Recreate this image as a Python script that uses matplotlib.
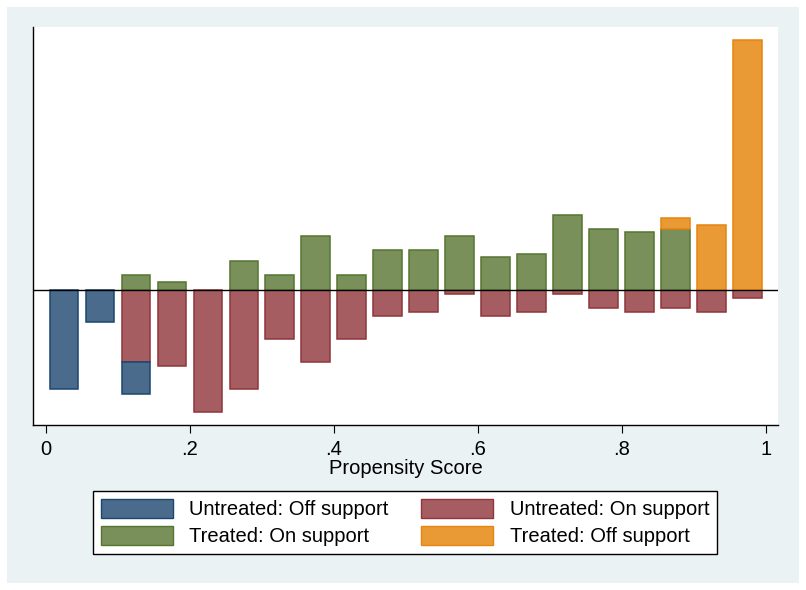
import matplotlib
matplotlib.use('Agg')
import matplotlib.pyplot as plt
from matplotlib.patches import Patch, Rectangle

plt.rcParams['font.family'] = ['Liberation Sans', 'DejaVu Sans']

# bin centres of the propensity score histogram
bins = [0.025 + 0.05 * i for i in range(20)]

# heights (arbitrary units), untreated drawn downwards
untreated_on = [0, 0, 72.3, 76.3, 122.3, 99.3, 49.3, 72.3, 49.3, 26.3,
                22.3, 4.3, 26.3, 22.3, 4.3, 18.3, 22.3, 18.3, 22.3, 8.0]
untreated_off = [99.3, 32.3, 32.0, 0, 0, 0, 0, 0, 0, 0,
                 0, 0, 0, 0, 0, 0, 0, 0, 0, 0]
treated_on = [0, 0, 14.7, 8.0, 0, 28.7, 14.7, 54.0, 14.7, 39.7,
              39.7, 53.7, 32.7, 35.7, 74.7, 60.7, 57.7, 60.7, 0, 0]
treated_off = [0, 0, 0, 0, 0, 0, 0, 0, 0, 0,
               0, 0, 0, 0, 0, 0, 0, 11.0, 64.7, 250.0]

xticks = [0, 0.2, 0.4, 0.6, 0.8, 1]
xticklabels = ['0', '.2', '.4', '.6', '.8', '1']

blue = ('#4a6b8c', '#1a476f')
red = ('#a55d62', '#90353b')
green = ('#79905a', '#55752f')
orange = ('#ea9a35', '#e8850f')

FS = 14.5
W, H = 806, 590
fig = plt.figure(figsize=(W / 100, H / 100), dpi=100, facecolor='white')
fig.patches.append(Rectangle((7 / W, 1 - 583 / H), 792 / W, 576 / H,
                             transform=fig.transFigure, facecolor='#eaf2f3',
                             edgecolor='none', zorder=-10))

ax = fig.add_axes([33 / W, 1 - 425 / H, 745 / W, 398 / H])
ax.set_facecolor('white')

bw = 0.04
lw = 1.1
neg_on = [-v for v in untreated_on]
neg_off = [-v for v in untreated_off]
ax.bar(bins, neg_on, width=bw, color=red[0], edgecolor=red[1], linewidth=lw)
ax.bar(bins, neg_off, width=bw, bottom=neg_on, color=blue[0], edgecolor=blue[1], linewidth=lw)
ax.bar(bins, treated_on, width=bw, color=green[0], edgecolor=green[1], linewidth=lw)
ax.bar(bins, treated_off, width=bw, bottom=treated_on, color=orange[0], edgecolor=orange[1], linewidth=lw)
# hide zero-height bars edges
for c in ax.containers:
    for p in c.patches:
        if p.get_height() == 0:
            p.set_visible(False)

ax.axhline(0, color='black', linewidth=1.0)

ax.set_xlim(-0.018, 1.017)
ax.set_ylim(-135, 263)
ax.set_xticks(xticks)
ax.set_xticklabels(xticklabels, fontsize=FS)
ax.set_yticks([])
ax.tick_params(axis='x', direction='out', length=6, width=0.8, pad=5)
for s in ['top', 'right']:
    ax.spines[s].set_visible(False)
for s in ['left', 'bottom']:
    ax.spines[s].set_linewidth(1.0)
ax.set_xlabel('Propensity Score', fontsize=FS, labelpad=0)

handles = [Patch(facecolor=blue[0], edgecolor=blue[1], label='Untreated: Off support'),
           Patch(facecolor=green[0], edgecolor=green[1], label='Treated: On support'),
           Patch(facecolor=red[0], edgecolor=red[1], label='Untreated: On support'),
           Patch(facecolor=orange[0], edgecolor=orange[1], label='Treated: Off support')]
leg = fig.legend(handles=handles, ncol=2, loc='center', bbox_to_anchor=(405 / W, 1 - 522.5 / H),
                 fontsize=FS, frameon=True, fancybox=False, edgecolor='black', framealpha=1,
                 handlelength=3.6, handleheight=1.1, handletextpad=0.8,
                 columnspacing=1.6, labelspacing=0.3, borderpad=0.4, borderaxespad=0)
leg.get_frame().set_linewidth(1.0)

fig.savefig('out.png', dpi=100, facecolor='white')
